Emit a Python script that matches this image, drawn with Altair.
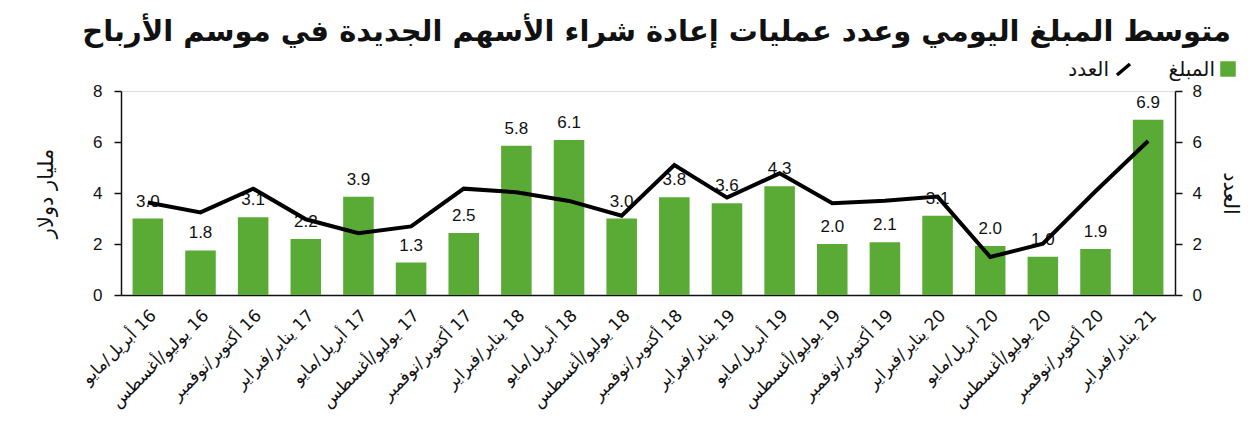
import altair as alt
import pandas as pd

# ---- data ----
years = ["16", "16", "16", "17", "17", "17", "17", "18", "18", "18",
         "18", "19", "19", "19", "19", "20", "20", "20", "20", "21"]
seasons = ["أبريل/مايو", "يوليو/أغسطس", "أكتوبر/نوفمبر",
           "يناير/فبراير", "أبريل/مايو", "يوليو/أغسطس", "أكتوبر/نوفمبر",
           "يناير/فبراير", "أبريل/مايو", "يوليو/أغسطس", "أكتوبر/نوفمبر",
           "يناير/فبراير", "أبريل/مايو", "يوليو/أغسطس", "أكتوبر/نوفمبر",
           "يناير/فبراير", "أبريل/مايو", "يوليو/أغسطس", "أكتوبر/نوفمبر",
           "يناير/فبراير"]
amount = [3.0, 1.75, 3.05, 2.2, 3.85, 1.27, 2.43, 5.85, 6.08, 3.0,
          3.83, 3.6, 4.26, 2.0, 2.07, 3.11, 1.92, 1.5, 1.8, 6.87]
amount_labels = ["3.0", "1.8", "3.1", "2.2", "3.9", "1.3", "2.5", "5.8", "6.1", "3.0",
                 "3.8", "3.6", "4.3", "2.0", "2.1", "3.1", "2.0", "1.0", "1.9", "6.9"]
count = [3.63, 3.24, 4.17, 2.97, 2.42, 2.69, 4.17, 4.03, 3.69, 3.11,
         5.1, 3.82, 4.77, 3.6, 3.7, 3.86, 1.49, 2.01, 4.07, 6.04]

title_text = "متوسط المبلغ اليومي وعدد عمليات إعادة شراء الأسهم الجديدة في موسم الأرباح"
left_title = "مليار دولار"
right_title = "العدد"
legend_amount = "المبلغ"
legend_count = "العدد"

# LRM keeps the year on the right end of each (RTL) label in an LTR context
cats = [f"{s}\u200e {y}" for s, y in zip(seasons, years)]

df = pd.DataFrame({"cat": cats, "amount": amount, "label": amount_labels, "count": count})

GREEN = "#5aab35"
AR_FONT = "DejaVu Sans"
NUM_FONT = "Liberation Sans"

x_enc = alt.X("cat:N", sort=cats, title=None,
              scale=alt.Scale(paddingInner=0.42, paddingOuter=0.22),
              axis=alt.Axis(labelAngle=315, labelAlign="right", labelBaseline="top",
                            labelFont=AR_FONT, labelFontSize=17, labelColor="#111",
                            labelPadding=12, ticks=False, domainColor="#111",
                            domainWidth=1.5, labelOverlap=False, labelLimit=300))

y_left = alt.Scale(domain=[0, 8], nice=False, zero=True)

bars = alt.Chart(df).mark_bar(color=GREEN).encode(
    x=x_enc,
    y=alt.Y("amount:Q", scale=y_left,
            axis=alt.Axis(values=[0, 2, 4, 6, 8], grid=False, tickSize=7,
                          tickColor="#111", domainColor="#111", domainWidth=1.5,
                          tickWidth=1.5,
                          labelFont=NUM_FONT, labelFontSize=17, labelColor="#111",
                          labelPadding=12, title=left_title, titleFont=AR_FONT,
                          titleFontSize=21, titleFontWeight="normal", titleColor="#111",
                          titlePadding=36)),
)

labels = alt.Chart(df).mark_text(font=NUM_FONT, fontSize=17, color="#111",
                                 baseline="alphabetic", dy=-12).encode(
    x=alt.X("cat:N", sort=cats),
    y=alt.Y("amount:Q", scale=y_left, axis=None),
    text="label:N",
)

line = alt.Chart(df).mark_line(color="#000", strokeWidth=4).encode(
    x=alt.X("cat:N", sort=cats),
    y=alt.Y("count:Q", scale=alt.Scale(domain=[0, 8], nice=False, zero=True),
            axis=alt.Axis(orient="right", values=[0, 2, 4, 6, 8], grid=False, tickSize=7,
                          tickColor="#111", domainColor="#111", domainWidth=1.5,
                          tickWidth=1.5,
                          labelFont=NUM_FONT, labelFontSize=17, labelColor="#111",
                          labelPadding=10, title=right_title, titleFont=AR_FONT,
                          titleFontSize=21, titleFontWeight="normal", titleColor="#111",
                          titlePadding=18)),
)

# ---- title and right-to-left legend above the plot (fixed layout positions) ----
title_mark = alt.Chart(pd.DataFrame({"t": [title_text]})).mark_text(
    font=AR_FONT, fontSize=29, fontWeight="bold", color="#111",
    align="right", baseline="alphabetic").encode(
    x=alt.value(1110), y=alt.value(-50), text="t:N")
leg_sq = alt.Chart(pd.DataFrame({"k": [legend_amount]})).mark_square(
    color=GREEN, size=240, opacity=1).encode(x=alt.value(1107), y=alt.value(-22))
leg_txt1 = alt.Chart(pd.DataFrame({"t": [legend_amount]})).mark_text(
    font=AR_FONT, fontSize=20, color="#111", align="right", baseline="alphabetic").encode(
    x=alt.value(1094), y=alt.value(-15), text="t:N")
leg_txt2 = alt.Chart(pd.DataFrame({"t": [legend_count]})).mark_text(
    font=AR_FONT, fontSize=20, color="#111", align="right", baseline="alphabetic").encode(
    x=alt.value(988), y=alt.value(-15), text="t:N")
leg_slash = alt.Chart(pd.DataFrame({"k": [legend_count]})).mark_rule(
    color="#000", strokeWidth=3.5).encode(
    x=alt.value(996), x2=alt.value(1009), y=alt.value(-16), y2=alt.value(-27))

chart = alt.layer(bars, labels, line, title_mark, leg_sq, leg_txt1, leg_txt2, leg_slash
).resolve_scale(
    y="independent"
).properties(
    width=1054, height=204,
    autosize=alt.AutoSizeParams(type="none"),
    padding={"left": 121, "top": 91, "right": 85, "bottom": 147},
).configure_view(stroke=None).configure(background="white")

chart.save("out.html", embed_options={"renderer": "svg", "actions": False})
